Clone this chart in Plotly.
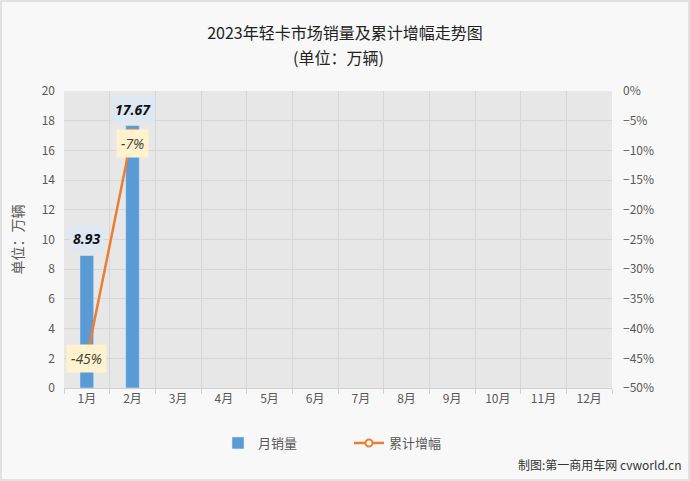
import plotly.graph_objects as go

months = ["1月", "2月", "3月", "4月", "5月", "6月", "7月", "8月", "9月", "10月", "11月", "12月"]
sales = [8.93, 17.67]
growth = [-0.45, -0.07]
sales_labels = ["8.93", "17.67"]
growth_labels = ["-45%", "-7%"]

xs = list(range(len(months)))
FONT = "Noto Sans CJK SC, Noto Sans, sans-serif"

fig = go.Figure()
fig.add_trace(go.Bar(x=xs[:len(sales)], y=sales, name="月销量", marker_color="#5b9bd5",
                     width=0.3, yaxis="y"))
fig.add_trace(go.Scatter(x=xs[:len(growth)], y=growth, name="累计增幅", yaxis="y2",
                         mode="lines+markers", line=dict(color="#ed7d31", width=2.5),
                         marker=dict(symbol="circle", size=7, color="white",
                                     line=dict(color="#ed7d31", width=2))))

annotations = []
for i, (v, t) in enumerate(zip(sales, sales_labels)):
    annotations.append(dict(x=xs[i], y=v, xref="x", yref="y", text="<b><i>" + t + "</i></b>",
                            showarrow=False, yanchor="bottom", yshift=3,
                            font=dict(size=14, color="#111111", family="Open Sans, sans-serif"),
                            bgcolor="#dde8f3", borderpad=3))
for i, (v, t) in enumerate(zip(growth, growth_labels)):
    annotations.append(dict(x=xs[i], y=v, xref="x", yref="y2", text="<i>" + t + "</i>",
                            showarrow=False, yanchor="middle", yshift=(0 if i == 0 else -11),
                            font=dict(size=14, color="#404040", family="Open Sans, sans-serif"),
                            bgcolor="#fff2cc", borderpad=4))
annotations.append(dict(x=0.5, y=(481 - 93 - 57) / 297, xref="paper", yref="paper",
                        xanchor="center", yanchor="middle", showarrow=False,
                        text="(单位：万辆)",
                        font=dict(size=16, color="#222222", family=FONT)))
annotations.append(dict(x=(683 - 64) / 548, y=-(464 - 388) / 297, xref="paper", yref="paper",
                        xanchor="right", yanchor="middle", showarrow=False,
                        text="制图:第一商用车网 cvworld.cn",
                        font=dict(size=12, color="#333333", family=FONT)))

fig.update_layout(
    width=690, height=481,
    margin=dict(l=64, r=78, t=91, b=93),
    paper_bgcolor="#f8f8f8",
    plot_bgcolor="#e7e7e7",
    title=dict(text="2023年轻卡市场销量及累计增幅走势图", x=0.5, xanchor="center",
               y=1 - 33 / 481, yanchor="middle",
               font=dict(size=16, color="#222222", family=FONT)),
    font=dict(family=FONT, size=12, color="#595959"),
    showlegend=True,
    legend=dict(orientation="h", x=(218 - 64) / 548, xanchor="left", y=-(443 - 388) / 297,
                yanchor="middle", font=dict(size=13, color="#595959", family=FONT),
                entrywidth=86, bgcolor="rgba(0,0,0,0)"),
    xaxis=dict(tickmode="array", tickvals=xs, ticktext=months, range=[-0.5, 11.5],
               showgrid=False, zeroline=False, showline=True, linecolor="#d0d0d0",
               tickfont=dict(size=12, color="#595959"),
               minor=dict(tickmode="array", tickvals=[i + 0.5 for i in range(-1, 12)],
                          showgrid=True, gridcolor="#d6d6d6", gridwidth=1,
                          ticks="outside", ticklen=5, tickcolor="#d0d0d0")),
    yaxis=dict(range=[0, 20], dtick=2, showgrid=True, gridcolor="#d6d6d6", zeroline=False,
               title=dict(text="单位：万辆", font=dict(size=14, color="#595959"), standoff=14),
               tickfont=dict(size=12, color="#595959"), ticks="", ticklabelstandoff=8),
    yaxis2=dict(range=[-0.5, 0], dtick=0.05, tickformat=".0%", overlaying="y", side="right",
                showgrid=False, zeroline=False, tickfont=dict(size=12, color="#595959"),
                ticklabelstandoff=10),
    annotations=annotations,
    shapes=[dict(type="rect", xref="paper", yref="paper", x0=-63/548, x1=(689 - 64) / 548,
                 y0=-92 / 297, y1=(480 - 93) / 297,
                 line=dict(color="#d9d9d9", width=1.5), layer="below")],
)

fig.write_html("out.html", config={"displayModeBar": False},
               post_script="document.body.style.margin='0';")
